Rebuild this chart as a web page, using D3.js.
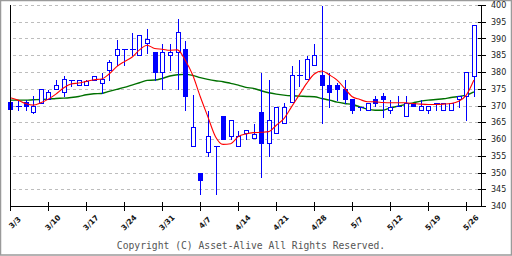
<!DOCTYPE html>
<html>
<head>
<meta charset="utf-8">
<script src="https://cdn.jsdelivr.net/npm/d3@7"></script>
<style>
  html, body { margin: 0; padding: 0; background: #fff; }
  svg { display: block; }
</style>
</head>
<body>
<svg id="chart"></svg>
<script>
// daily candles, one slot per trading day
const opens  = [371, 369.8, 370.9, 368, 370.8, 371.8, 374.8, 373.9, 377.7, 376, 376, 377.7, 376.8, 380.7, 385, 386.8,
                386.8, 385, 388.7, 386, 379.9, 385, 386, 386.8, 357.8, 349.8, 356, 357.8, 366.8, 360.8, 357.8, 361.9,
                360.2, 368, 358.9, 361.9, 364.8, 370.9, 379, 377.8, 382, 379, 376, 376, 374.8, 371.8, 369.6, 368.8,
                371.8, 372.9, 368.8, 369.8, 366.8, 370.6, 368.8, 368.8, 370.8, 368.8, 368.8, 371.8, 372.9, 378.9];
const highs  = [371, 371.9, 371.9, 373.1, 374.8, 374.8, 377.9, 379, 377.7, 377.7, 377.9, 378.9, 379.9, 384, 389.8, 386.8,
                391.8, 391, 393, 386, 388.8, 388.8, 396, 389.7, 373.3, 349.8, 368.8, 357.8, 366.8, 365.8, 362.8, 362.8,
                364.9, 380, 377.9, 369.6, 370.9, 382.1, 383.8, 385, 388.8, 400, 380, 377, 377.8, 371.8, 369.6, 370.8,
                373.1, 373.9, 371.8, 373.1, 373.1, 370.6, 371.8, 369.8, 370.8, 370.8, 370.8, 372.9, 379.9, 393.9];
const lows   = [368.8, 368.8, 368.8, 367.8, 370.8, 371.8, 374.8, 372.9, 375.8, 376, 376, 377.7, 373.6, 377.7, 382, 382,
                385, 385, 385.8, 377.6, 374.8, 380.7, 374.8, 368.8, 357.8, 343.7, 354.8, 343.7, 359.9, 359.9, 357.8, 359.9,
                360.2, 348.7, 354.8, 361.9, 364.8, 370.9, 375.8, 377.8, 382, 364.8, 369.6, 371.6, 370.6, 367.8, 368.6, 368.8,
                369.8, 366.6, 367.8, 369.8, 366.8, 369.8, 368.8, 367.8, 368.8, 368.8, 368.8, 369.6, 365.8, 372.9];
const closes = [369, 369.8, 369.8, 369.8, 374.8, 373.9, 376, 377.9, 377.7, 377.7, 377.3, 378.9, 377.9, 382.9, 386.8, 386.8,
                386.8, 391, 389.8, 379.9, 386, 386, 391.8, 372.9, 363.7, 347.8, 360.8, 357.8, 359.9, 365.8, 360.8, 362.8,
                361.6, 358.9, 365.8, 369.6, 369.6, 379, 379, 383.8, 385, 376, 373.9, 374.8, 371.8, 368.8, 369.6, 370.8,
                370.8, 371.8, 369.6, 369.8, 370.8, 369.8, 369.8, 369.8, 370.8, 370.8, 370.8, 372.9, 379.9, 393.9];

// moving averages
const maShort = [372.3, 371.6, 370.6, 370.1, 370.8, 371.9, 373.4, 375.2, 376.4, 376.7, 377.2, 377.7, 377.9, 379.4, 381.6, 383.1,
                 384.4, 386.6, 388, 387, 386.8, 386.5, 386.6, 383.6, 379.1, 372.6, 366.6, 360.7, 358.4, 358.6, 360.7, 361.5,
                 361.9, 362, 362.2, 364.1, 366.1, 369.6, 373.1, 376.6, 379.4, 380.3, 379.1, 377.6, 375.1, 372.6, 371.8, 371.1,
                 371.1, 370.9, 370.8, 370.8, 370.8, 370.6, 370.4, 370.3, 370.3, 370.4, 370.6, 371.3, 373.1, 377.6];
const maLong  = [371.6, 371.6, 371.6, 371.7, 371.8, 371.9, 372.1, 372.2, 372.4, 372.7, 373.2, 373.5, 373.6, 374.2, 374.8, 375.4,
                 376.1, 376.8, 377.5, 377.6, 378.1, 378.8, 379.2, 379.3, 379, 378.3, 377.8, 377.4, 377.1, 376.6, 376.1, 375.4,
                 375.1, 374.4, 373.8, 373.4, 373.1, 372.9, 372.8, 372.7, 372.6, 372.1, 371.6, 371, 370.6, 370.3, 369.6, 368.9,
                 368.6, 368.6, 369.3, 369.8, 370.3, 370.8, 371.3, 371.6, 371.8, 372, 372.4, 372.7, 373.1, 374.1];

const weekLabels = ['3/3', '3/10', '3/17', '3/24', '3/31', '4/7', '4/14', '4/21', '4/28', '5/7', '5/12', '5/19', '5/26'];
const yTicks = [340, 345, 350, 355, 360, 365, 370, 375, 380, 385, 390, 395, 400];

const width = 512, height = 256;
const svg = d3.select('#chart').attr('width', width).attr('height', height);

// outer frame
svg.append('rect')
    .attr('x', 0.5).attr('y', 0.5)
    .attr('width', width - 1).attr('height', height - 1.5)
    .attr('fill', '#fff')
    .attr('stroke', '#9a9a9a')
    .attr('stroke-width', 1.5);

const x = d3.scaleLinear().domain([0, 62]).range([10.3, 481.5]);
const y = d3.scaleLinear().domain([340, 400]).range([206, 5]);
const px = i => Math.round(x(i)) + 0.5;
const py = v => Math.round(y(v)) + 0.5;

// dashed gridlines
svg.append('g').selectAll('line')
    .data(yTicks.filter(v => v > 340))
    .join('line')
    .attr('x1', 13).attr('x2', 479)
    .attr('y1', d => py(d)).attr('y2', d => py(d))
    .attr('stroke', '#bdbdbd')
    .attr('stroke-dasharray', '3,3');

// moving averages
const line = arr => d3.line()
    .x((d, i) => x(i))
    .y(d => y(d))
    .curve(d3.curveMonotoneX)(arr);

svg.append('path').attr('d', line(maLong))
    .attr('fill', 'none').attr('stroke', '#007000').attr('stroke-width', 1.4);

// candles
const idx = d3.range(opens.length);
const cg = svg.append('g').attr('shape-rendering', 'crispEdges');

cg.selectAll('.wick')
    .data(idx)
    .join('line')
    .attr('class', 'wick')
    .attr('x1', i => px(i)).attr('x2', i => px(i))
    .attr('y1', i => py(highs[i])).attr('y2', i => py(lows[i]))
    .attr('stroke', '#0000ff');

cg.selectAll('.body')
    .data(idx.filter(i => Math.abs(py(opens[i]) - py(closes[i])) >= 2))
    .join('rect')
    .attr('class', 'body')
    .attr('x', i => px(i) - 2)
    .attr('width', 4)
    .attr('y', i => py(Math.max(opens[i], closes[i])))
    .attr('height', i => py(Math.min(opens[i], closes[i])) - py(Math.max(opens[i], closes[i])))
    .attr('fill', i => closes[i] < opens[i] ? '#0000ff' : '#fff')
    .attr('stroke', '#0000ff');

cg.selectAll('.doji')
    .data(idx.filter(i => Math.abs(py(opens[i]) - py(closes[i])) < 2))
    .join('line')
    .attr('class', 'doji')
    .attr('x1', i => px(i) - 2.5).attr('x2', i => px(i) + 3.5)
    .attr('y1', i => py(closes[i])).attr('y2', i => py(closes[i]))
    .attr('stroke', '#0000ff');

svg.append('path').attr('d', line(maShort))
    .attr('fill', 'none').attr('stroke', '#ff0000').attr('stroke-width', 1.1);

// axes
const ag = svg.append('g').attr('shape-rendering', 'crispEdges').attr('stroke', '#000');
ag.append('line').attr('x1', 10.5).attr('x2', 10.5).attr('y1', 5).attr('y2', 206.5);
ag.append('line').attr('x1', 481.5).attr('x2', 481.5).attr('y1', 5).attr('y2', 206.5);
ag.append('line').attr('x1', 10.5).attr('x2', 486).attr('y1', 206.5).attr('y2', 206.5);

ag.selectAll('.yt')
    .data(yTicks)
    .join('line')
    .attr('x1', 478).attr('x2', 486)
    .attr('y1', d => py(d)).attr('y2', d => py(d));

ag.selectAll('.xt')
    .data(weekLabels)
    .join('line')
    .attr('x1', (d, i) => px(i * 5)).attr('x2', (d, i) => px(i * 5))
    .attr('y1', 202).attr('y2', 211);

svg.append('g').selectAll('text')
    .data(yTicks)
    .join('text')
    .attr('x', 491)
    .attr('y', d => y(d) + 3)
    .attr('font-family', 'DejaVu Sans, sans-serif')
    .attr('font-size', '8px')
    .attr('fill', '#222')
    .text(d => d);

svg.append('g').selectAll('text')
    .data(weekLabels)
    .join('text')
    .attr('transform', (d, i) => `translate(${x(i * 5) + 5},${223}) rotate(-45)`)
    .attr('text-anchor', 'middle')
    .attr('dominant-baseline', 'middle')
    .attr('font-family', 'DejaVu Sans, sans-serif')
    .attr('font-weight', 'bold')
    .attr('font-size', '7.5px')
    .attr('fill', '#111')
    .text(d => d);

svg.append('text')
    .attr('x', 251)
    .attr('y', 249)
    .attr('text-anchor', 'middle')
    .attr('font-family', 'DejaVu Sans Mono, monospace')
    .attr('font-size', '9.7px')
    .attr('fill', '#555')
    .text('Copyright (C) Asset-Alive All Rights Reserved.');
</script>
</body>
</html>
